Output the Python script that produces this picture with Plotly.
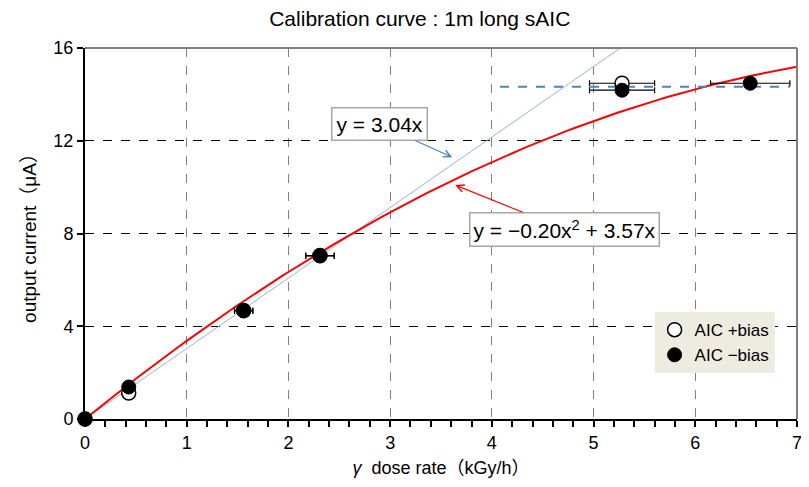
import plotly.graph_objects as go
import numpy as np

# data
x_plus = [0.0, 0.43, 1.56, 2.31, 5.28]
y_plus = [0.0, 1.12, 4.68, 7.05, 14.48]
xerr_plus = [0.0, 0.03, 0.09, 0.14, 0.32]

x_minus = [0.0, 0.43, 1.56, 2.31, 5.28, 6.54]
y_minus = [0.0, 1.38, 4.66, 7.03, 14.18, 14.48]
xerr_minus = [0.0, 0.03, 0.09, 0.14, 0.32, 0.39]

lin_coef = 3.04              # y = 3.04x
quad_coef = [-0.20, 3.57]    # y = -0.20x^2 + 3.57x
plateau_x = [4.08, 6.93]
plateau_y = [14.33, 14.33]

FONT = "Liberation Sans, Noto Sans CJK JP"

xs = np.linspace(0, 7, 141)
fig = go.Figure()

fig.add_trace(go.Scatter(x=xs, y=lin_coef * xs, mode="lines",
                         line=dict(color="#95b3d7", width=1), showlegend=False, hoverinfo="skip"))
fig.add_trace(go.Scatter(x=xs, y=quad_coef[0] * xs**2 + quad_coef[1] * xs, mode="lines",
                         line=dict(color="#ff0000", width=2), showlegend=False, hoverinfo="skip"))
fig.add_trace(go.Scatter(x=plateau_x, y=plateau_y, mode="lines",
                         line=dict(color="#4f81bd", width=2, dash="dash"), showlegend=False))

fig.add_trace(go.Scatter(x=x_plus, y=y_plus, mode="markers", name="AIC +bias",
                         marker=dict(symbol="circle", size=14, color="white",
                                     line=dict(color="black", width=1.5)),
                         error_x=dict(type="data", array=xerr_plus, color="black", thickness=1.2, width=3),
                         cliponaxis=False))
fig.add_trace(go.Scatter(x=x_minus, y=y_minus, mode="markers", name="AIC −bias",
                         marker=dict(symbol="circle", size=14, color="black",
                                     line=dict(color="black", width=1)),
                         error_x=dict(type="data", array=xerr_minus, color="black", thickness=1.2, width=3),
                         cliponaxis=False))

fig.update_layout(
    width=809, height=487,
    margin=dict(l=77, r=20, t=40, b=76, autoexpand=False),
    paper_bgcolor="white", plot_bgcolor="white",
    font=dict(family=FONT, color="black", size=16),
    title=dict(text="Calibration curve : 1m long sAIC", x=0.509, xanchor="center",
               y=0.979, yanchor="middle", font=dict(size=21, family=FONT)),
    legend=dict(x=0.80, y=0.288, xanchor="left", yanchor="top", bgcolor="#eeece1",
                font=dict(size=17, family=FONT), borderwidth=0, itemwidth=30,
                tracegroupgap=0),
    xaxis=dict(range=[0, 7], tickvals=[0, 1, 2, 3, 4, 5, 6, 7], showline=True, linecolor="black",
               linewidth=2, ticks="outside", ticklen=6, tickcolor="black", tickwidth=1.5,
               showgrid=True, gridcolor="#808080", griddash="dash", gridwidth=1,
               zeroline=False, tickfont=dict(size=18), automargin=False,
               minor=dict(dtick=0.2, ticks="outside", ticklen=6, tickcolor="black", showgrid=False),
               title=dict(text="<i>γ</i>  dose rate（kGy/h）", font=dict(size=18), standoff=10)),
    yaxis=dict(range=[0, 16], tickvals=[0, 4, 8, 12, 16], showline=True, linecolor="black",
               linewidth=2, ticks="outside", ticklen=6, tickcolor="black", tickwidth=1.5,
               showgrid=True, gridcolor="black", griddash="dash", gridwidth=1,
               zeroline=False, tickfont=dict(size=18), automargin=False,
               title=dict(text="output current（μA）", font=dict(size=19), standoff=12)),
    shapes=[
        dict(type="line", xref="paper", yref="paper", x0=0, x1=1, y0=1, y1=1,
             line=dict(color="#808080", width=2)),
        dict(type="line", xref="paper", yref="paper", x0=1, x1=1, y0=0, y1=1,
             line=dict(color="#808080", width=2)),
    ],
    annotations=[
        dict(x=3.61, y=11.29, xref="x", yref="y", text="y = 3.04x", showarrow=True,
             ax=-73, ay=-33, arrowhead=5, arrowsize=1.2, arrowwidth=1.2, arrowcolor="#4f81bd",
             bgcolor="white", bordercolor="#a6a6a6", borderwidth=1.5, borderpad=4,
             font=dict(size=21, family=FONT)),
        dict(x=3.64, y=10.09, xref="x", yref="y", text="y = −0.20x<sup>2</sup> + 3.57x", showarrow=True,
             ax=109, ay=44, arrowhead=5, arrowsize=1.2, arrowwidth=1.2, arrowcolor="#ff0000",
             bgcolor="white", bordercolor="#a6a6a6", borderwidth=1.5, borderpad=3,
             font=dict(size=21, family=FONT)),
    ],
)

fig.write_html("out.html")
